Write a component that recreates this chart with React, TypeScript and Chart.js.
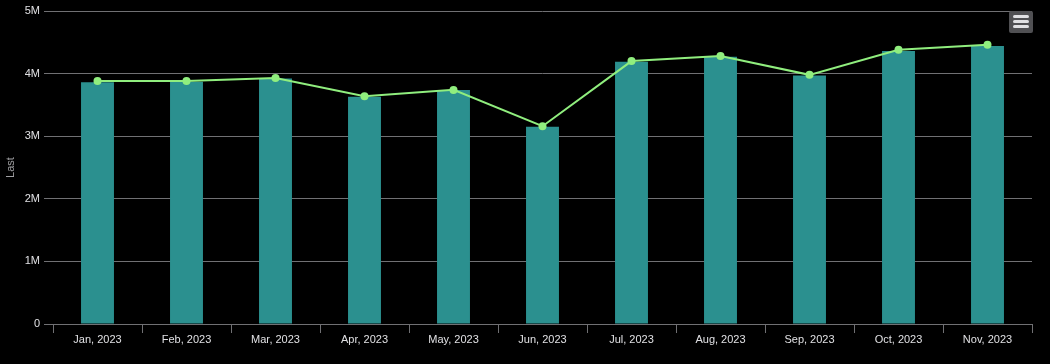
import React, { useEffect, useRef } from "react";
import { Chart, registerables } from "chart.js";

Chart.register(...registerables);

const categories = [
  "Jan, 2023", "Feb, 2023", "Mar, 2023", "Apr, 2023", "May, 2023", "Jun, 2023",
  "Jul, 2023", "Aug, 2023", "Sep, 2023", "Oct, 2023", "Nov, 2023",
];
const barValues = [3.86, 3.87, 3.92, 3.63, 3.74, 3.15, 4.19, 4.27, 3.97, 4.36, 4.44].map((v) => v * 1e6);
const lineValues = [3.88, 3.88, 3.93, 3.64, 3.74, 3.16, 4.2, 4.28, 3.98, 4.38, 4.46].map((v) => v * 1e6);
const yTickLabels: Record<number, string> = { 0: "0", 1e6: "1M", 2e6: "2M", 3e6: "3M", 4e6: "4M", 5e6: "5M" };
const yTitle = "Last";

export default function App() {
  const ref = useRef<HTMLCanvasElement>(null);
  useEffect(() => {
    if (!ref.current) return;
    const font = { family: "Liberation Sans, Arial, sans-serif", size: 11 };
    const chart = new Chart(ref.current, {
      data: {
        labels: categories,
        datasets: [
          {
            type: "line",
            label: "line",
            data: lineValues,
            borderColor: "#90ee7e",
            backgroundColor: "#90ee7e",
            borderWidth: 2,
            pointRadius: 4,
            pointBorderWidth: 0,
            tension: 0,
            order: 0,
          },
          {
            type: "bar",
            label: "bar",
            data: barValues,
            backgroundColor: "#2b908f",
            borderWidth: 0,
            categoryPercentage: 1,
            barPercentage: 0.37,
            order: 1,
          },
        ],
      },
      options: {
        animation: false,
        responsive: false,
        maintainAspectRatio: false,
        layout: { padding: { top: 11, right: 18, left: 0, bottom: 0 } },
        plugins: { legend: { display: false }, tooltip: { enabled: false } },
        scales: {
          x: {
            offset: true,
            grid: {
              display: true,
              offset: true,
              drawOnChartArea: false,
              drawTicks: true,
              tickLength: 9,
              color: "#707073",
            },
            border: { display: true, color: "#707073" },
            ticks: { color: "#E0E0E3", font, padding: 0, maxRotation: 0, autoSkip: false },
            afterFit: (s: any) => { s.height = 40; },
          },
          y: {
            min: 0,
            max: 5e6,
            grid: { color: "#707073", tickLength: 9, drawTicks: true },
            border: { display: false },
            ticks: {
              stepSize: 1e6,
              color: "#E0E0E3",
              font,
              padding: 4,
              callback: (v: any) => yTickLabels[v as number] ?? "",
            },
            title: { display: true, text: yTitle, color: "#A0A0A3", font, padding: { top: 4, bottom: 0 } },
            afterFit: (s: any) => { s.width = 53; },
          },
        },
      },
    });
    return () => chart.destroy();
  }, []);
  return (
    <div style={{ position: "fixed", left: 0, top: 0, width: 1050, height: 364, background: "#000" }}>
      <canvas ref={ref} width={1050} height={364} style={{ display: "block" }} />
      <div
        style={{
          position: "absolute", left: 1009, top: 11, width: 24, height: 22,
          background: "#505053", borderRadius: 2,
        }}
      >
        {[5, 10, 15].map((t) => (
          <div key={t} style={{ position: "absolute", left: 4, top: t - 1, width: 16, height: 3, background: "#E0E0E3", borderRadius: 1.5 }} />
        ))}
      </div>
    </div>
  );
}
